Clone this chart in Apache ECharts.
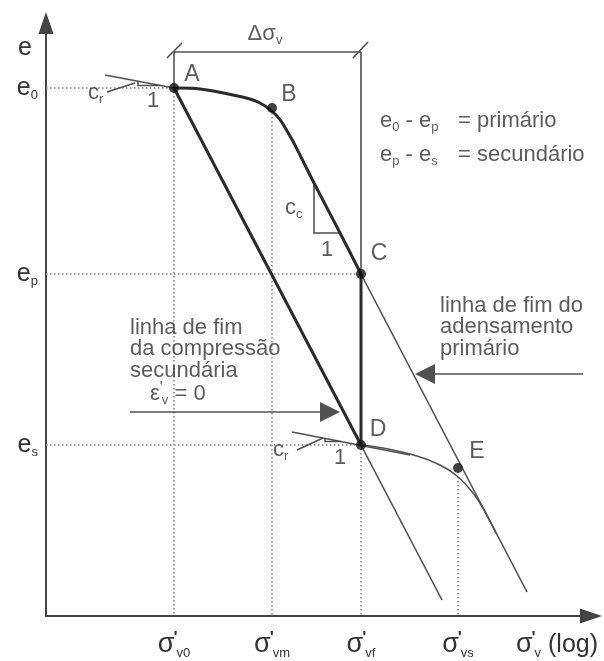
<!DOCTYPE html>
<html>
<head>
<meta charset="utf-8">
<script src="https://cdn.jsdelivr.net/npm/echarts@6/dist/echarts.min.js"></script>
<style>
  html, body { margin: 0; padding: 0; background: #fff; }
  #chart { width: 604px; height: 661px; }
</style>
</head>
<body>
<div id="chart"></div>
<script>
// e – log(σ'v) diagram: primary consolidation and secondary compression.
// Both axes use schematic drawing units (no numeric scale is shown).

// ---- axis ticks ----
const sigmaTicks = [128, 226, 315, 412];
const sigmaTickNames = ['v0', 'vm', 'vf', 'vs'];
const eTicks = [528, 342, 171];
const eTickNames = ['0', 'p', 's'];

// ---- named state points ----
const pointNames = ['A', 'B', 'C', 'D', 'E'];
const pointX = [128, 226, 315, 315, 412];
const pointY = [528, 508, 342, 171, 148];

// ---- curves ----
const primaryCurve = [[128, 528], [154, 527], [187, 521], [212, 514], [231, 500], [244, 480], [255, 459], [268, 433], [292, 387], [315, 342]];
const secondaryCurve = [[315, 171], [337, 168], [371, 160], [394, 151], [411, 140], [427, 123], [437, 108], [450, 83]];
const primaryEndLine = [[315, 342], [481, 24]];
const secondaryEndLine = [[128, 528], [315, 171]];
const secondaryEndLineExt = [[315, 171], [396, 16]];
const loadPath = [[315, 342], [315, 171]];
const recompressionA = [[59, 541], [128, 528]];
const recompressionD = [[246, 184], [364, 161]];

// ---- slope triangles and leaders ----
const ccTriangle = [[268, 432], [268, 383], [294, 383]];
const crTriangleA = [[92, 535], [92, 530.5], [114, 530.5]];
const crTriangleD = [[279, 178], [279, 174.5], [295, 174.5]];
const crLeaderA = [[61, 524], [89, 533]];
const crLeaderD = [[251, 166], [277, 178]];

// ---- Δσv dimension ----
const dimLine = [[128, 564], [315, 564]];
const dimExtA = [[128, 564], [128, 528]];
const dimExtC = [[315, 564], [315, 342]];
const dimTickA = [[121, 558], [136, 573]];
const dimTickC = [[307, 558], [322, 574]];

// ---- pointer arrows (start, tip) ----
const arrowSecondary = [[84, 204], [294, 204]];
const arrowPrimary = [[537, 242], [369, 242]];

// ---- dotted reference lines ----
const guides = [
  [[0, 528], [128, 528]],
  [[0, 342], [315, 342]],
  [[0, 171], [315, 171]],
  [[128, 528], [128, 0]],
  [[226, 503], [226, 0]],
  [[315, 171], [315, 0]],
  [[412, 139], [412, 0]]
];

const FONT = '"Liberation Sans", Arial, Helvetica, sans-serif';
const TEXT = '#333';
const THICK = '#2a2a2a';
const THIN = '#505050';
const ARROW_LEN = 20;

const rich = {
  m: { fontSize: 22, lineHeight: 26, color: TEXT, fontFamily: FONT },
  b: { fontSize: 13, lineHeight: 12, verticalAlign: 'bottom', color: TEXT, fontFamily: FONT },
  p: { fontSize: 16, lineHeight: 16, verticalAlign: 'top', color: TEXT, fontFamily: FONT, width: 2 }
};

// text annotations (placed in axis units)
const notes = [
  { text: '{m|e}{b|0}{m| - e}{b|p}', at: [334, 495], align: 'left' },
  { text: '{m|= primário}', at: [412, 495], align: 'left' },
  { text: '{m|e}{b|p}{m| - e}{b|s}', at: [334, 461], align: 'left' },
  { text: '{m|= secundário}', at: [412, 461], align: 'left' },
  { text: 'linha de fim do\nadensamento\nprimário', at: [394, 289], align: 'left' },
  { text: 'linha de fim\nda compressão\nsecundária', at: [84, 267], align: 'left' },
  { text: "{m|ε}{p|'}{b|v}{m| = 0}", at: [104, 222], align: 'left' },
  { text: '{m|c}{b|c}', at: [239, 408], align: 'left' },
  { text: '1', at: [281, 366], align: 'center' },
  { text: '{m|c}{b|r}', at: [42, 523], align: 'left' },
  { text: '1', at: [107, 515], align: 'center' },
  { text: '{m|c}{b|r}', at: [227, 166], align: 'left' },
  { text: '1', at: [294, 158], align: 'center' },
  { text: '{m|Δσ}{b|v}', at: [219, 582], align: 'center' }
];
const pointLabelAt = [[146, 541], [243, 521], [333, 362], [332, 186], [431, 164]];

function shortenEnd(seg, len) {
  const [a, b] = seg;
  const dx = b[0] - a[0], dy = b[1] - a[1];
  const d = Math.hypot(dx, dy);
  return [a, [b[0] - dx / d * len, b[1] - dy / d * len]];
}

function linesSeries(list, style, extra) {
  return Object.assign({
    type: 'lines',
    coordinateSystem: 'cartesian2d',
    polyline: true,
    silent: true,
    lineStyle: Object.assign({ opacity: 1, curveness: 0 }, style),
    data: list.map(c => ({ coords: c }))
  }, extra || {});
}

// smooth curve through the given points (Catmull-Rom drawn as cubic Béziers)
function curveSeries(points, style, z) {
  return {
    type: 'custom',
    coordinateSystem: 'cartesian2d',
    silent: true,
    z: z,
    data: [points[0]],
    renderItem: function (params, api) {
      const p = points.map(pt => api.coord(pt));
      let d = 'M' + p[0][0] + ' ' + p[0][1];
      for (let i = 0; i < p.length - 1; i++) {
        const p0 = p[Math.max(i - 1, 0)], p1 = p[i], p2 = p[i + 1], p3 = p[Math.min(i + 2, p.length - 1)];
        const c1 = [p1[0] + (p2[0] - p0[0]) / 6, p1[1] + (p2[1] - p0[1]) / 6];
        const c2 = [p2[0] - (p3[0] - p1[0]) / 6, p2[1] - (p3[1] - p1[1]) / 6];
        d += ' C' + c1[0] + ' ' + c1[1] + ' ' + c2[0] + ' ' + c2[1] + ' ' + p2[0] + ' ' + p2[1];
      }
      return {
        type: 'path',
        shape: { pathData: d },
        style: { fill: null, stroke: style.color, lineWidth: style.width, lineJoin: 'round', lineCap: 'round' }
      };
    }
  };
}

const chart = echarts.init(document.getElementById('chart'), null, { renderer: 'canvas' });

const option = {
  animation: false,
  backgroundColor: '#fff',
  grid: { left: 46, top: 23, width: 545, height: 593, outerBoundsMode: 'none' },
  xAxis: {
    type: 'value', min: 0, max: 545,
    splitLine: { show: false }, axisTick: { show: false },
    axisLine: { onZero: false, symbol: ['none', 'triangle'], symbolSize: [15, 22], lineStyle: { color: '#444', width: 2 } },
    axisLabel: {
      customValues: sigmaTicks,
      margin: 14,
      formatter: v => '{s|σ}{p|\'}{b|' + sigmaTickNames[sigmaTicks.indexOf(v)] + '}',
      rich: {
        s: { fontSize: 27, lineHeight: 30, color: TEXT, fontFamily: FONT },
        p: { fontSize: 17, lineHeight: 16, verticalAlign: 'top', color: TEXT, fontFamily: FONT, fontWeight: 'bold', width: 2 },
        b: { fontSize: 13, lineHeight: 20, verticalAlign: 'bottom', color: TEXT, fontFamily: FONT }
      }
    },
    name: '{s|σ}{p|\'}{b|v}{t| (log)}',
    nameLocation: 'end',
    nameGap: -34,
    nameTextStyle: {
      align: 'center', verticalAlign: 'top', padding: [14, 0, 0, 0],
      rich: {
        s: { fontSize: 27, lineHeight: 30, color: TEXT, fontFamily: FONT },
        p: { fontSize: 17, lineHeight: 16, verticalAlign: 'top', color: TEXT, fontFamily: FONT, fontWeight: 'bold', width: 2 },
        b: { fontSize: 13, lineHeight: 20, verticalAlign: 'bottom', color: TEXT, fontFamily: FONT },
        t: { fontSize: 25, lineHeight: 30, color: TEXT, fontFamily: FONT }
      }
    }
  },
  yAxis: {
    type: 'value', min: 0, max: 593,
    splitLine: { show: false }, axisTick: { show: false },
    axisLine: { onZero: false, symbol: ['none', 'triangle'], symbolSize: [15, 22], lineStyle: { color: '#444', width: 2 } },
    axisLabel: {
      customValues: eTicks,
      margin: 8,
      formatter: v => '{e|e}{b|' + eTickNames[eTicks.indexOf(v)] + '}',
      rich: {
        e: { fontSize: 25, lineHeight: 28, color: TEXT, fontFamily: FONT },
        b: { fontSize: 13, lineHeight: 14, verticalAlign: 'bottom', color: TEXT, fontFamily: FONT }
      }
    },
    name: 'e',
    nameLocation: 'end',
    nameGap: -25,
    nameTextStyle: { fontSize: 25, color: TEXT, fontFamily: FONT, align: 'right', verticalAlign: 'middle', padding: [0, 14, 0, 0] }
  },
  series: [
    // dotted reference lines
    linesSeries(guides, { color: '#808080', width: 1.5, type: [1.5, 2.5] }, { z: 1 }),
    // thin construction lines
    linesSeries([primaryEndLine, secondaryEndLineExt, recompressionA, recompressionD,
                 dimLine, dimExtA, dimExtC, dimTickA, dimTickC,
                 ccTriangle, crTriangleA, crTriangleD, crLeaderA, crLeaderD],
      { color: THIN, width: 1.6 }, { z: 2 }),
    // thick path A-D and C-D
    linesSeries([secondaryEndLine, loadPath], { color: THICK, width: 3 }, { z: 3 }),
    // pointer arrows
    linesSeries([shortenEnd(arrowSecondary, ARROW_LEN / 2), shortenEnd(arrowPrimary, ARROW_LEN / 2)],
      { color: THIN, width: 1.6 },
      { z: 3, polyline: false, symbol: ['none', 'triangle'], symbolSize: [9, ARROW_LEN] }),
    // primary compression curve (thick)
    curveSeries(primaryCurve, { color: THICK, width: 3 }, 4),
    // curve after secondary compression (thin)
    curveSeries(secondaryCurve, { color: THIN, width: 1.6 }, 4),
    // state points
    {
      type: 'scatter', silent: true, z: 6,
      symbol: 'circle', symbolSize: 10,
      itemStyle: { color: '#111' },
      data: pointX.map((x, i) => [x, pointY[i]])
    },
    // point names
    {
      type: 'scatter', silent: true, z: 6, symbolSize: 1,
      itemStyle: { color: 'rgba(0,0,0,0)' },
      label: { show: true, position: 'inside', fontSize: 23, color: TEXT, fontFamily: FONT },
      data: pointNames.map((n, i) => ({ value: pointLabelAt[i], label: { formatter: n } }))
    },
    // annotations
    {
      type: 'scatter', silent: true, z: 6, symbolSize: 1,
      itemStyle: { color: 'rgba(0,0,0,0)' },
      label: { show: true, position: 'inside', fontSize: 22, lineHeight: 21.5, color: TEXT, fontFamily: FONT, rich: rich },
      data: notes.map(n => ({ value: n.at, label: { formatter: n.text, align: n.align } }))
    }
  ]
};

chart.setOption(option);
</script>
</body>
</html>
